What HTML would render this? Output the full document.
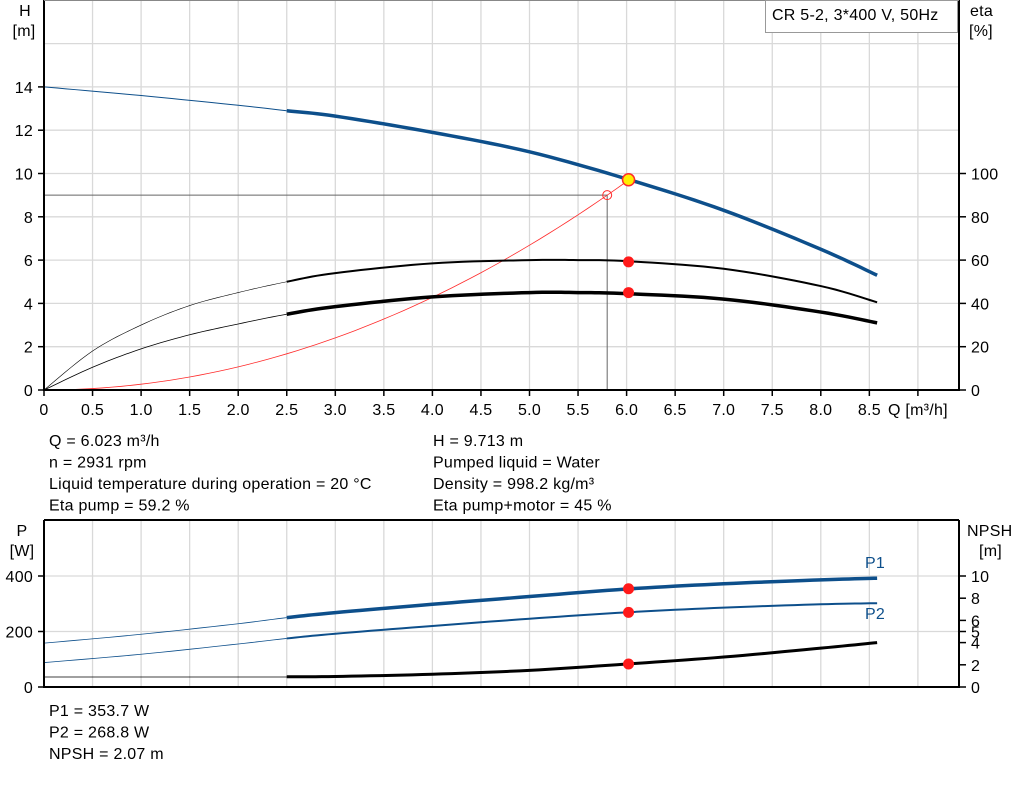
<!DOCTYPE html>
<html><head><meta charset="utf-8"><style>
body{margin:0;background:#fff;width:1024px;height:781px;overflow:hidden;font-family:"Liberation Sans",Arial,sans-serif}
svg text{font-family:"Liberation Sans",Arial,sans-serif;font-size:16px;letter-spacing:0.25px;fill:#000}
</style></head><body>
<svg id="s" width="1024" height="781" xmlns="http://www.w3.org/2000/svg"></svg>
<script>
const s=document.getElementById('s');let h='';
const X=q=>44+97.1*q, YH=v=>390-21.65*v, YP=p=>687-0.2775*p, YN=n=>687-11.1*n;
const grid='#d9d9d9';
for(let i=1;i<=18;i++){const x=X(i*0.5);if(x<959)h+=`<line x1="${x}" y1="0" x2="${x}" y2="390" stroke="${grid}" stroke-width="1.3"/>`;}
for(let v=2;v<=16;v+=2)h+=`<line x1="44" y1="${YH(v)}" x2="959" y2="${YH(v)}" stroke="${grid}" stroke-width="1.3"/>`;
for(let i=1;i<=18;i++){const x=X(i*0.5);if(x<959)h+=`<line x1="${x}" y1="520" x2="${x}" y2="687" stroke="${grid}" stroke-width="1.3"/>`;}
[200,400].forEach(p=>h+=`<line x1="44" y1="${YP(p)}" x2="959" y2="${YP(p)}" stroke="${grid}" stroke-width="1.3"/>`);
function pl(pts,fx,fy,w,c){return `<polyline fill="none" stroke="${c}" stroke-width="${w}" stroke-linejoin="round" points="${pts.map(p=>fx(p[0])+','+fy(p[1])).join(' ')}"/>`;}
function interp(pts,a,b){
 const out=[];for(let i=0;i<pts.length-1;i++){const p0=pts[Math.max(i-1,0)],p1=pts[i],p2=pts[i+1],p3=pts[Math.min(i+2,pts.length-1)];
 for(let t=0;t<1;t+=0.1){const t2=t*t,t3=t2*t;const f=(a0,a1,a2,a3)=>0.5*(2*a1+(-a0+a2)*t+(2*a0-5*a1+4*a2-a3)*t2+(-a0+3*a1-3*a2+a3)*t3);out.push([f(p0[0],p1[0],p2[0],p3[0]),f(p0[1],p1[1],p2[1],p3[1])]);}}
 out.push(pts[pts.length-1]);return out.filter(p=>p[0]>=a-1e-9&&p[0]<=b+1e-9);}
function curve(pts,fy,c,wThin,wThick){const d=interp(pts,0,99);h+=pl(d.filter(p=>p[0]<=2.5),X,fy,wThin,c);h+=pl(d.filter(p=>p[0]>=2.49),X,fy,wThick,c);}
const blue='#0d4f8b';
h+=`<polyline fill="none" stroke="#666" stroke-width="1" points="44,${YH(9)} ${X(5.8)},${YH(9)} ${X(5.8)},390"/>`;
let sys=[];for(let q=0;q<=6.02;q+=0.1)sys.push([q,0.2675*q*q]);sys.push([6.02,9.71]);
h+=pl(sys,X,YH,0.8,'#ff2a2a');
h+=`<circle cx="${X(5.8)}" cy="${YH(9)}" r="4.5" fill="none" stroke="#ff2a2a" stroke-width="1"/>`;
curve([[0,14],[1,13.6],[2,13.15],[2.5,12.9],[3,12.65],[4,11.9],[5,11.0],[6,9.75],[7,8.3],[8,6.5],[8.58,5.3]],YH,blue,1,3.5);
curve([[0,0],[0.5,1.8],[1,3.0],[1.5,3.9],[2,4.5],[2.5,5.0],[3,5.4],[4,5.85],[5,6.0],[5.5,6.0],[6,5.95],[7,5.6],[8,4.8],[8.58,4.05]],YH,'#000',0.6,2);
curve([[0,0],[0.5,1.05],[1,1.9],[1.5,2.55],[2,3.05],[2.5,3.5],[3,3.85],[4,4.3],[5,4.5],[5.5,4.5],[6,4.45],[7,4.2],[8,3.6],[8.58,3.1]],YH,'#000',0.8,3.5);
h+=`<circle cx="${X(6.02)}" cy="${YH(9.71)}" r="6" fill="#ffee00" stroke="#ff2a2a" stroke-width="1.5"/>`;
h+=`<circle cx="${X(6.02)}" cy="${YH(5.92)}" r="5.5" fill="#ff1a1a"/><circle cx="${X(6.02)}" cy="${YH(4.5)}" r="5.5" fill="#ff1a1a"/>`;
curve([[0,158],[1,190],[2,228],[2.5,250],[3,268],[4,298],[5,326],[6,353],[7,372],[8,386],[8.58,392]],YP,blue,0.8,3.5);
curve([[0,88],[1,118],[2,155],[2.5,175],[3,192],[4,220],[5,246],[6,269],[7,286],[8,298],[8.58,302]],YP,blue,0.8,2);
h+=`<line x1="44" y1="677" x2="288" y2="677" stroke="#000" stroke-width="0.8"/>`;
h+=pl(interp([[2.5,0.92],[3,0.95],[4,1.15],[5,1.5],[6,2.07],[7,2.7],[8,3.5],[8.58,4.0]],0,99),X,YN,3,'#000');
h+=`<circle cx="${X(6.02)}" cy="${YP(354)}" r="5.5" fill="#ff1a1a"/><circle cx="${X(6.02)}" cy="${YP(269)}" r="5.5" fill="#ff1a1a"/><circle cx="${X(6.02)}" cy="${YN(2.07)}" r="5.5" fill="#ff1a1a"/>`;
h+=`<line x1="44" y1="0" x2="44" y2="391" stroke="#000" stroke-width="2"/><line x1="959" y1="0" x2="959" y2="391" stroke="#000" stroke-width="2"/><line x1="43" y1="390" x2="960" y2="390" stroke="#000" stroke-width="2"/><line x1="44" y1="0.5" x2="959" y2="0.5" stroke="#888" stroke-width="1"/>`;
for(let v=0;v<=14;v+=2){h+=`<line x1="38" y1="${YH(v)}" x2="44" y2="${YH(v)}" stroke="#000" stroke-width="1.5"/><text x="33" y="${YH(v)+6}" text-anchor="end">${v}</text>`;}
for(let e=0;e<=100;e+=20){const y=YH(e/10);h+=`<line x1="959" y1="${y}" x2="966" y2="${y}" stroke="#000" stroke-width="1.5"/><text x="971" y="${y+6}">${e}</text>`;}
const ql=['0','0.5','1.0','1.5','2.0','2.5','3.0','3.5','4.0','4.5','5.0','5.5','6.0','6.5','7.0','7.5','8.0','8.5'];
ql.forEach((t,i)=>{const x=X(i*0.5);h+=`<line x1="${x}" y1="390" x2="${x}" y2="396" stroke="#000" stroke-width="1.5"/><text x="${x}" y="415" text-anchor="middle">${t}</text>`;});
h+=`<line x1="${X(9)}" y1="390" x2="${X(9)}" y2="396" stroke="#000" stroke-width="1.5"/>`;
h+=`<text x="888" y="415">Q [m³/h]</text>`;
h+=`<text x="25" y="16" text-anchor="middle">H</text><text x="24" y="36" text-anchor="middle">[m]</text>`;
h+=`<text x="970" y="16">eta</text><text x="969" y="36">[%]</text>`;
h+=`<rect x="765.5" y="0.5" width="192" height="32" fill="#fff" stroke="#999" stroke-width="1"/><text x="772" y="20">CR 5-2, 3*400 V, 50Hz</text>`;
h+=`<line x1="44" y1="520" x2="959" y2="520" stroke="#000" stroke-width="2"/><line x1="44" y1="520" x2="44" y2="688" stroke="#000" stroke-width="2"/><line x1="959" y1="520" x2="959" y2="688" stroke="#000" stroke-width="2"/><line x1="43" y1="687" x2="960" y2="687" stroke="#000" stroke-width="2"/>`;
[0,200,400].forEach(p=>h+=`<line x1="38" y1="${YP(p)}" x2="44" y2="${YP(p)}" stroke="#000" stroke-width="1.5"/><text x="33" y="${YP(p)+6}" text-anchor="end">${p}</text>`);
[0,2,4,5,6,8,10].forEach(n=>h+=`<line x1="959" y1="${YN(n)}" x2="966" y2="${YN(n)}" stroke="#000" stroke-width="1.5"/><text x="971" y="${YN(n)+6}">${n}</text>`);
h+=`<text x="22" y="536" text-anchor="middle">P</text><text x="22" y="556" text-anchor="middle">[W]</text>`;
h+=`<text x="967" y="536">NPSH</text><text x="979" y="556">[m]</text>`;
h+=`<text x="865" y="568" style="fill:${blue}">P1</text><text x="865" y="619" style="fill:${blue}">P2</text>`;
const L1=['Q = 6.023 m³/h','n = 2931 rpm','Liquid temperature during operation = 20 °C','Eta pump = 59.2 %'];
const L2=['H = 9.713 m','Pumped liquid = Water','Density = 998.2 kg/m³','Eta pump+motor = 45 %'];
L1.forEach((t,i)=>h+=`<text x="49" y="${446+21.5*i}">${t}</text>`);
L2.forEach((t,i)=>h+=`<text x="433" y="${446+21.5*i}">${t}</text>`);
['P1 = 353.7 W','P2 = 268.8 W','NPSH = 2.07 m'].forEach((t,i)=>h+=`<text x="49" y="${716+21.5*i}">${t}</text>`);
s.innerHTML=h;
</script>
</body></html>
